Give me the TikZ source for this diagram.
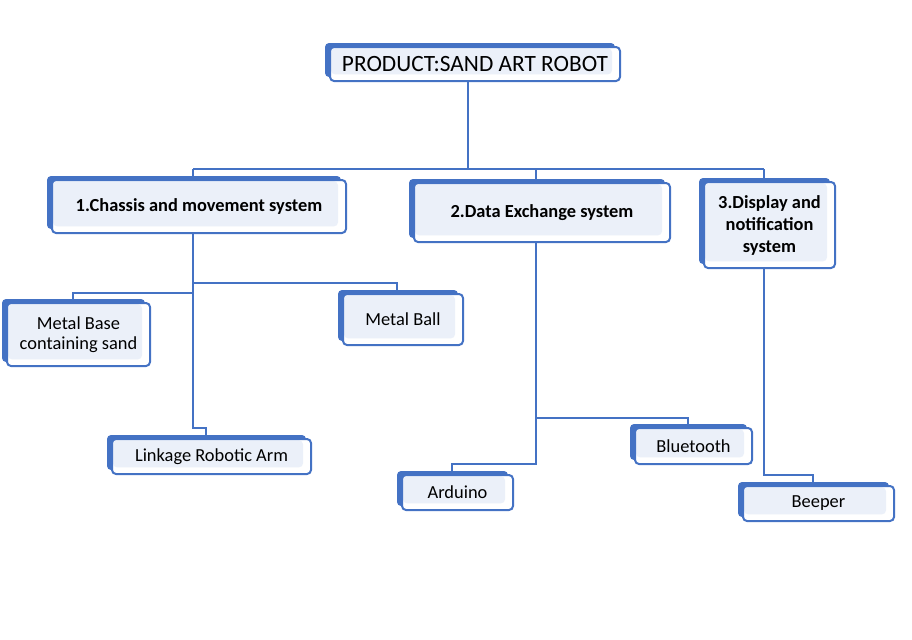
\documentclass[tikz,border=0pt]{standalone}
\usepackage{fontspec}
\setmainfont{Carlito}
\usepackage{tikz}
\usetikzlibrary{shadows}

\definecolor{boxblue}{RGB}{68,114,196}
\definecolor{boxfill}{RGB}{235,240,249}

\tikzset{
  part/.style={draw=boxblue, line width=1.5pt, fill=white, rounded corners=3pt,
    inner sep=0pt, align=center, font=\fontsize{13.8}{15}\selectfont,
    general shadow={fill=boxblue, draw=none, shadow xshift=-3.75pt, shadow yshift=3pt},
    path picture={\fill[boxfill] ([shift={(0.75pt,-1pt)}]path picture bounding box.north west)
      rectangle ([shift={(-6pt,5pt)}]path picture bounding box.south east);}},
  group/.style={part, font=\bfseries\fontsize{13.8}{16.5}\selectfont},
  link/.style={draw=boxblue, line width=1.5pt}
}

\begin{document}
\begin{tikzpicture}[x=0.75pt,y=0.75pt,yscale=-1,xscale=1]
\path[use as bounding box] (0,0) rectangle (912,639);

%Rounded Rect: product
\node (root) [part, font=\fontsize{17.5}{20}\selectfont, minimum width=217.5pt, minimum height=25.5pt] at (475,64) {PRODUCT:SAND ART ROBOT};

%Rounded Rect: systems
\node (chassis) [group, minimum width=220.5pt, minimum height=39.75pt] at (199,206.5) {1.Chassis and movement system};
\node (data) [group, minimum width=192pt, minimum height=44.25pt] at (542,212.5) {2.Data Exchange system};
\node (display) [group, minimum width=98.25pt, minimum height=64.5pt] at (769.5,225) {3.Display and\\notification\\system};

%Rounded Rect: parts
\node (base) [part, minimum width=107.25pt, minimum height=47.25pt] at (78.5,334.5) {Metal Base\\containing sand};
\node (ball) [part, minimum width=90pt, minimum height=38.25pt] at (403,319.5) {Metal Ball};
\node (arm) [part, minimum width=149.25pt, minimum height=26.25pt] at (211.5,456.5) {Linkage Robotic Arm};
\node (arduino) [part, minimum width=83.25pt, minimum height=26.25pt] at (457.5,492.5) {Arduino};
\node (bluetooth) [part, minimum width=87.75pt, minimum height=27pt] at (693.5,446) {Bluetooth};
\node (beeper) [part, minimum width=113.25pt, minimum height=26.25pt] at (818.5,503.5) {Beeper};

%Levels of the connectors
\coordinate (bus) at (0,169);
\coordinate (armbus) at (0,428);
\coordinate (ballbus) at (0,283);
\coordinate (basebus) at (0,293);
\coordinate (ardbus) at (0,464);
\coordinate (btbus) at (0,418);
\coordinate (beepbus) at (0,475);

%Connectors
\draw[link] ([xshift=-5pt]root.south) -- ([xshift=-5pt]root.south |- bus);
\draw[link] ([xshift=-4.5pt]chassis.north |- bus) -- ([xshift=-4.5pt]display.north |- bus);
\draw[link] ([xshift=-4.5pt]chassis.north |- bus) -- ([xshift=-4.5pt]chassis.north);
\draw[link] ([xshift=-4.5pt]data.north |- bus) -- ([xshift=-4.5pt]data.north);
\draw[link] ([xshift=-4.5pt]display.north |- bus) -- ([xshift=-4.5pt]display.north);

\draw[link] ([xshift=-4.5pt]chassis.south) -- ([xshift=-4.5pt]chassis.south |- armbus) -| ([xshift=-4.5pt]arm.north);
\draw[link] ([xshift=-4.5pt]chassis.south |- ballbus) -| ([xshift=-4.5pt]ball.north);
\draw[link] ([xshift=-4.5pt]chassis.south |- basebus) -| ([xshift=-4.5pt]base.north);

\draw[link] ([xshift=-4.5pt]data.south) -- ([xshift=-4.5pt]data.south |- ardbus) -| ([xshift=-4.5pt]arduino.north);
\draw[link] ([xshift=-4.5pt]data.south |- btbus) -| ([xshift=-4.5pt]bluetooth.north);

\draw[link] ([xshift=-4.5pt]display.south) -- ([xshift=-4.5pt]display.south |- beepbus) -| ([xshift=-4.5pt]beeper.north);

\end{tikzpicture}
\end{document}
